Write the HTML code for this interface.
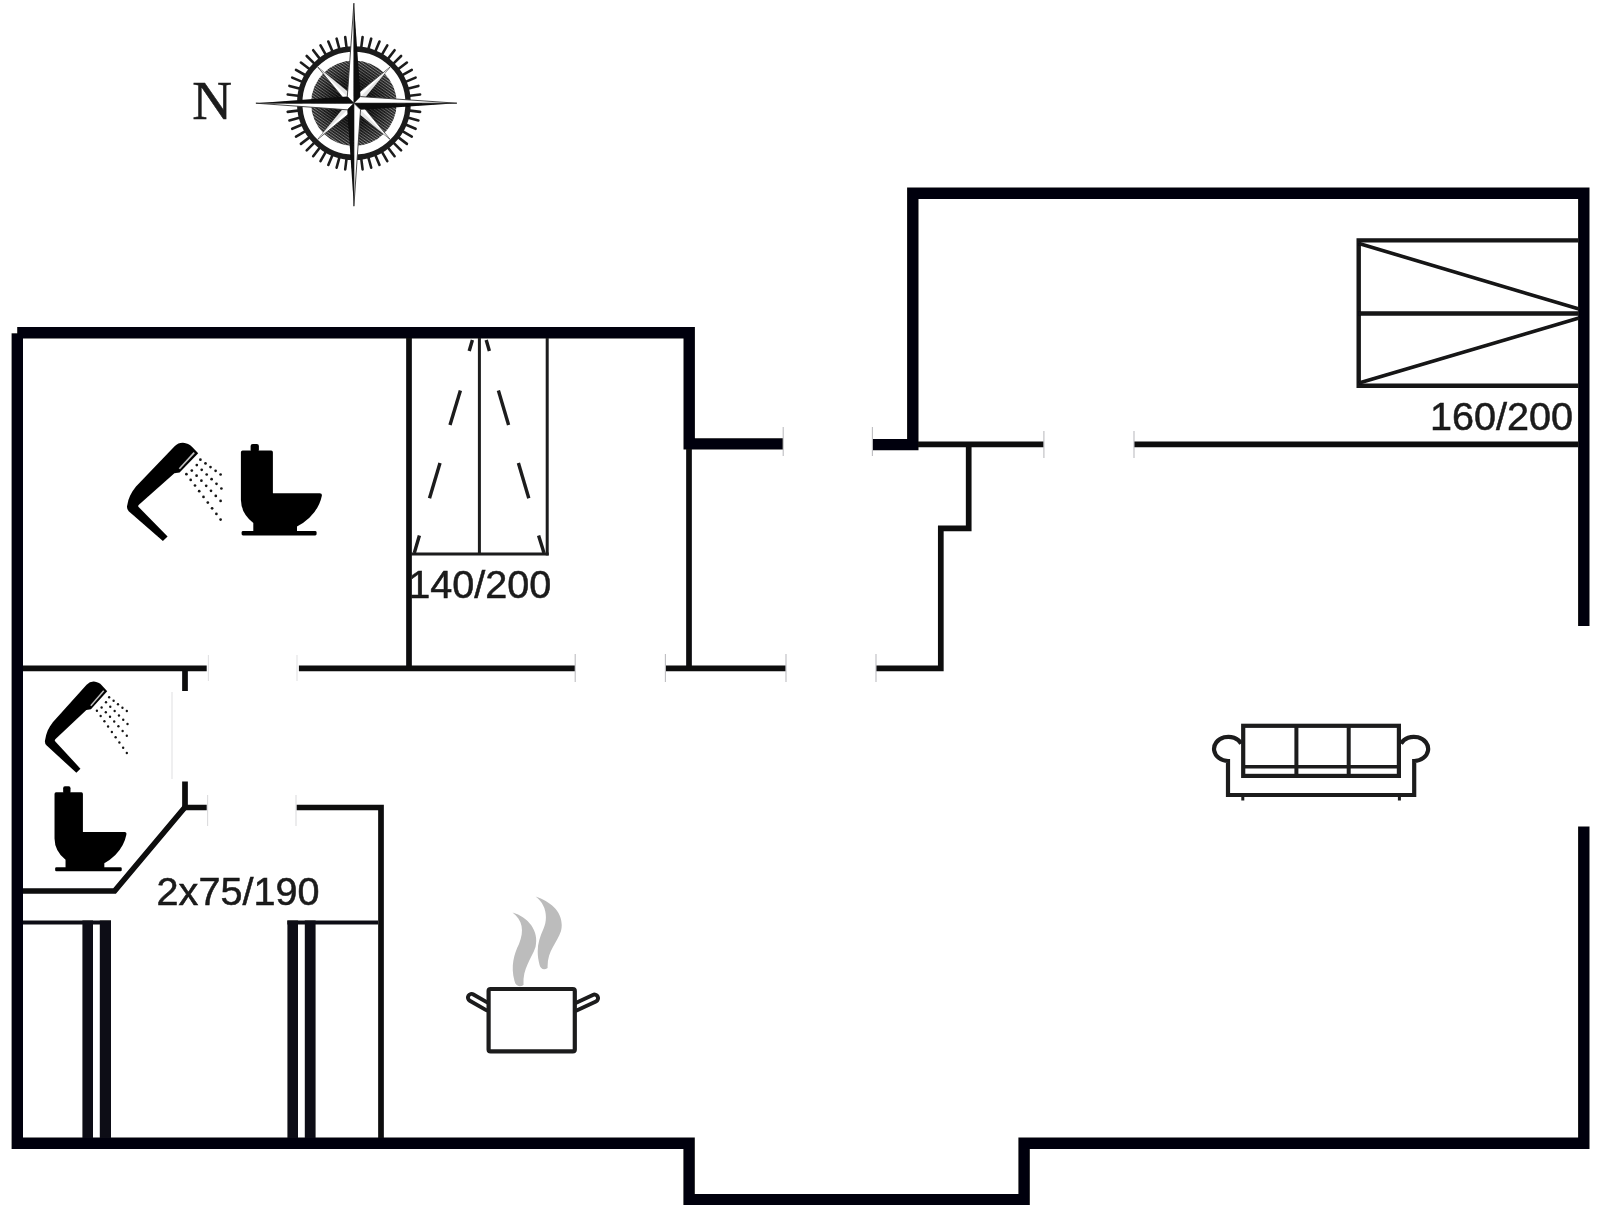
<!DOCTYPE html>
<html lang="en">
<head>
<meta charset="utf-8">
<title>Floor plan</title>
<style>
  html, body { margin: 0; padding: 0; background: #ffffff; }
  body { width: 1606px; height: 1205px; overflow: hidden; }
  svg { display: block; }
  .lbl { font-family: "Liberation Sans", sans-serif; fill: #1a1a1a; stroke: #1a1a1a; stroke-width: 0.55px; }
  .ser { font-family: "Liberation Serif", serif; fill: #1c1c1c; stroke: #1c1c1c; stroke-width: 0.5px; }
</style>
</head>
<body>
<svg width="1606" height="1205" viewBox="0 0 1606 1205">
  <defs>
    <filter id="page" filterUnits="userSpaceOnUse" x="0" y="0" width="1606" height="1205"><feGaussianBlur stdDeviation="0.55"/></filter>
  </defs>
  <rect x="0" y="0" width="1606" height="1205" fill="#ffffff"/>
  <g id="page-root" filter="url(#page)">
  <rect x="0" y="0" width="1606" height="1205" fill="#ffffff"/>

  <!-- ===== thick outer walls ===== -->
  <g id="outer" fill="none" stroke="#060608" stroke-width="11.4" stroke-linejoin="miter" stroke-linecap="butt">
    <path d="M783 443.9 H689.2 V332.7 H17.3 V1143.3 H689.1 V1199.6 H1024.1 V1143.3 H1583.8 V826.4"/>
    <path d="M1583.8 626 V193.2 H912.8 V444.6 H872.5"/>
    <!-- chipped outer corner, top-left -->
    <rect x="10" y="325" width="7.2" height="8.3" fill="#ffffff" stroke="none"/>
  </g>

  <!-- ===== thin inner walls ===== -->
  <g id="inner" fill="none" stroke="#0a0a0c" stroke-width="5.7" stroke-linejoin="miter" stroke-linecap="butt">
    <!-- horizontal y=668 -->
    <path d="M23 668.3 H206.7"/>
    <path d="M298.9 668.3 H575"/>
    <path d="M665.5 668.3 H785.8"/>
    <path d="M876 668.4 H940.8 V528.3 H968.7 V445"/>
    <path d="M409 338 V668"/>
    <path d="M689 449 V668"/>
    <path d="M918 444.3 H1043.8"/>
    <path d="M1134 444.3 H1578"/>
    <!-- small bath -->
    <path d="M185 671 V691"/>
    <path d="M185 781.5 V807.5 H206.7"/>
    <path d="M296.4 807.5 H381 V1138"/>
    <path d="M186 806 L114.6 891 H23"/>
  </g>

  <!-- placeholder: furniture, icons, labels come next -->
  <g id="furniture">
    <!-- bed 140/200 -->
    <g fill="none" stroke="#1a1a1c" stroke-linecap="butt">
      <path d="M479.4 338 V554" stroke-width="3"/>
      <path d="M547.2 338 V555.4" stroke-width="3"/>
      <path d="M411 554 H548.7" stroke-width="3"/>
      <!-- dashed arrow lines -->
      <g stroke-width="3.4">
        <path d="M472.4 340 L469.2 351"/>
        <path d="M460.4 390.4 L450 425"/>
        <path d="M440 463 L429.5 498.3"/>
        <path d="M419.4 535.5 L414.3 553"/>
        <path d="M486.2 340 L489.4 351"/>
        <path d="M498.4 390.4 L508.6 425"/>
        <path d="M518.4 463 L528.8 498.3"/>
        <path d="M538.6 535.5 L544 553"/>
      </g>
    </g>
    <!-- bed 160/200 -->
    <g fill="none" stroke="#121214" stroke-width="4.4" stroke-linejoin="miter">
      <path d="M1578 240.4 H1358.7 V385.8 H1578"/>
      <path d="M1358.7 313.5 H1578"/>
      <path d="M1359 243.5 L1579 309" stroke-width="3.6"/>
      <path d="M1359 383 L1579 318" stroke-width="3.6"/>
    </g>
    <!-- twin beds 2x75/190 -->
    <g fill="none" stroke="#111114">
      <path d="M23 922.5 H111" stroke-width="4.2"/>
      <path d="M287.3 922.5 H378" stroke-width="4.2"/>
      <path d="M87.7 920.5 V1138" stroke-width="10.6"/>
      <path d="M105.4 920.5 V1138" stroke-width="11.2"/>
      <path d="M292.7 920.5 V1138" stroke-width="10.6"/>
      <path d="M310.2 920.5 V1138" stroke-width="10.8"/>
    </g>
    <!-- sofa -->
    <g fill="none" stroke="#1c1c1e" stroke-width="4.2" stroke-linejoin="miter">
      <path d="M1241.2 743.6 A14.3 12.1 0 1 0 1228 761 V795 H1414.2 V761 A14.3 12.1 0 1 0 1401 743.6"/>
      <rect x="1243.2" y="725.8" width="155.7" height="50.1"/>
      <path d="M1296.4 726 V776 M1348.7 726 V776" stroke-width="4"/>
      <path d="M1243 766.8 H1399" stroke-width="3.4"/>
      <path d="M1242.8 797 V800.6 M1399.4 797 V800.6" stroke-width="3"/>
    </g>
    <!-- cooking pot -->
    <g fill="none" stroke-linecap="round" stroke-linejoin="round">
      <path d="M488 1007 L471.6 997.6" stroke="#1c1c1e" stroke-width="11.2"/>
      <path d="M488 1007 L471.6 997.6" stroke="#ffffff" stroke-width="3.4"/>
      <path d="M575.6 1007 L594.4 998.2" stroke="#1c1c1e" stroke-width="11.2"/>
      <path d="M575.6 1007 L594.4 998.2" stroke="#ffffff" stroke-width="3.4"/>
      <rect x="488.6" y="989" width="86.2" height="62.4" rx="2" fill="#ffffff" stroke="#1c1c1e" stroke-width="4.2"/>
    </g>
    <!-- steam -->
    <g fill="#bcbcbc" stroke="none" filter="url(#soft2)">
      <path d="M512.5 912.6 C528 917 539.5 931 535.5 947 C531.5 959 522.5 968 523.5 985 C519.5 987.5 515.5 986 514.5 981 C510.5 966 514 954 519 944 C524.5 931 522.5 920 512.5 912.6 Z"/>
      <path d="M535.6 896.6 C552 902 565 914 561 931 C557 943 547 951 547.6 968 C544 970.5 540.5 969 539.6 965 C535.6 950 538.4 940 543.4 929 C548.6 917 545.6 904 535.6 896.6 Z"/>
    </g>
  </g>
  <g id="icons">
    <g><g>
      <path d="M174.6 446.2 Q178.4 442.6 183 442.8 Q188.6 443.2 192.2 446.9 L198.2 453.3 L179.6 472.6 L174.4 473.2 L139.2 504.4 Q137.4 505.7 138.9 507.2 L167.6 536.4 L162.9 540.9 L128.7 511.2 Q126.2 508.6 127.3 505 C128.4 498.4 131 492.6 136 486.6 Z" fill="#060606"/>
      <path d="M194.2 452.6 L179.4 468.8" stroke="#c4c4c4" stroke-width="1.6" fill="none"/>
      <g fill="#161616"><circle cx="186.4" cy="474.2" r="1.35"/><circle cx="190.7" cy="479.9" r="1.35"/><circle cx="195.0" cy="485.5" r="1.35"/><circle cx="199.2" cy="491.2" r="1.35"/><circle cx="203.5" cy="496.9" r="1.35"/><circle cx="207.8" cy="502.6" r="1.35"/><circle cx="212.1" cy="508.3" r="1.35"/><circle cx="216.4" cy="513.9" r="1.35"/><circle cx="220.6" cy="519.6" r="1.35"/><circle cx="191.8" cy="470.6" r="1.35"/><circle cx="196.6" cy="475.7" r="1.35"/><circle cx="201.4" cy="480.7" r="1.35"/><circle cx="206.2" cy="485.8" r="1.35"/><circle cx="211.0" cy="490.8" r="1.35"/><circle cx="215.8" cy="495.9" r="1.35"/><circle cx="220.6" cy="500.9" r="1.35"/><circle cx="196.8" cy="465.1" r="1.35"/><circle cx="201.7" cy="469.8" r="1.35"/><circle cx="206.7" cy="474.5" r="1.35"/><circle cx="211.6" cy="479.2" r="1.35"/><circle cx="216.5" cy="483.8" r="1.35"/><circle cx="221.4" cy="488.5" r="1.35"/><circle cx="200.4" cy="459.7" r="1.35"/><circle cx="205.5" cy="463.4" r="1.35"/><circle cx="210.5" cy="467.1" r="1.35"/><circle cx="215.6" cy="470.8" r="1.35"/><circle cx="220.6" cy="474.5" r="1.35"/></g>
    </g><g fill="#050505">
      <rect x="250.6" y="444.1" width="8.3" height="8" rx="2"/>
      <path d="M242.6 450.4 H271.2 Q272.9 450.4 272.9 452.2 V493.2 H319.8 Q322.4 493.2 321.8 496 Q319.4 508 309.4 517.8 Q303.4 523.4 297 526.6 V532 H253.3 V523 Q241 513.4 240.9 500 V452.2 Q240.9 450.4 242.6 450.4 Z"/>
      <rect x="241.6" y="531" width="75" height="4.4" rx="1.4"/>
    </g></g>
    <g transform="matrix(0.875 0 0 0.93 -66.2 269.8)"><g>
      <path d="M174.6 446.2 Q178.4 442.6 183 442.8 Q188.6 443.2 192.2 446.9 L198.2 453.3 L179.6 472.6 L174.4 473.2 L139.2 504.4 Q137.4 505.7 138.9 507.2 L167.6 536.4 L162.9 540.9 L128.7 511.2 Q126.2 508.6 127.3 505 C128.4 498.4 131 492.6 136 486.6 Z" fill="#060606"/>
      <path d="M194.2 452.6 L179.4 468.8" stroke="#c4c4c4" stroke-width="1.6" fill="none"/>
      <g fill="#161616"><circle cx="186.4" cy="474.2" r="1.35"/><circle cx="190.7" cy="479.9" r="1.35"/><circle cx="195.0" cy="485.5" r="1.35"/><circle cx="199.2" cy="491.2" r="1.35"/><circle cx="203.5" cy="496.9" r="1.35"/><circle cx="207.8" cy="502.6" r="1.35"/><circle cx="212.1" cy="508.3" r="1.35"/><circle cx="216.4" cy="513.9" r="1.35"/><circle cx="220.6" cy="519.6" r="1.35"/><circle cx="191.8" cy="470.6" r="1.35"/><circle cx="196.6" cy="475.7" r="1.35"/><circle cx="201.4" cy="480.7" r="1.35"/><circle cx="206.2" cy="485.8" r="1.35"/><circle cx="211.0" cy="490.8" r="1.35"/><circle cx="215.8" cy="495.9" r="1.35"/><circle cx="220.6" cy="500.9" r="1.35"/><circle cx="196.8" cy="465.1" r="1.35"/><circle cx="201.7" cy="469.8" r="1.35"/><circle cx="206.7" cy="474.5" r="1.35"/><circle cx="211.6" cy="479.2" r="1.35"/><circle cx="216.5" cy="483.8" r="1.35"/><circle cx="221.4" cy="488.5" r="1.35"/><circle cx="200.4" cy="459.7" r="1.35"/><circle cx="205.5" cy="463.4" r="1.35"/><circle cx="210.5" cy="467.1" r="1.35"/><circle cx="215.6" cy="470.8" r="1.35"/><circle cx="220.6" cy="474.5" r="1.35"/></g>
    </g></g>
    <g transform="matrix(0.888 0 0 0.931 -159.4 372.9)"><g fill="#050505">
      <rect x="250.6" y="444.1" width="8.3" height="8" rx="2"/>
      <path d="M242.6 450.4 H271.2 Q272.9 450.4 272.9 452.2 V493.2 H319.8 Q322.4 493.2 321.8 496 Q319.4 508 309.4 517.8 Q303.4 523.4 297 526.6 V532 H253.3 V523 Q241 513.4 240.9 500 V452.2 Q240.9 450.4 242.6 450.4 Z"/>
      <rect x="241.6" y="531" width="75" height="4.4" rx="1.4"/>
    </g></g>
    <!-- door jamb tick marks -->
    <g stroke="#bdbdc1" stroke-width="1.1" fill="none">
      <path d="M575.2 654 V682 M665.4 654 V682 M786 654 V682 M876 654 V682"/>
      <path d="M208.4 655 V681 M297 655 V681" stroke="#e2e2e4"/>
      <path d="M783.2 427 V456 M872.4 427 V456 M1043.9 431 V458 M1134 431 V458"/>
      <path d="M207.6 795 V826 M296 795 V826" stroke="#dcdcde"/>
    </g>
    <g stroke="#e4e4e6" stroke-width="1.2" fill="none">
      <path d="M172 692 V779"/>
          </g>
  </g>
  <g id="labels">
    <text class="lbl" x="408.3" y="597.6" font-size="39.6">140/200</text>
    <text class="lbl" x="1430" y="430.2" font-size="39.6">160/200</text>
    <text class="lbl" x="156.6" y="905.3" font-size="39.6">2x75/190</text>
    <text class="ser" x="192.2" y="118.8" font-size="55">N</text>
  </g>
  <g id="compass">
    <defs>
      <pattern id="hatch" width="2.4" height="2.4" patternUnits="userSpaceOnUse" patternTransform="rotate(35)">
        <rect width="2.4" height="2.4" fill="#8c8c8c"/>
        <rect width="2.4" height="1.5" fill="#2a2a2a"/>
      </pattern>
      <radialGradient id="discShade" cx="50%" cy="50%" r="50%">
        <stop offset="0" stop-color="#000" stop-opacity="0.9"/>
        <stop offset="0.5" stop-color="#000" stop-opacity="0.6"/>
        <stop offset="1" stop-color="#000" stop-opacity="0"/>
      </radialGradient>
      <filter id="soft" x="-10%" y="-10%" width="120%" height="120%"><feGaussianBlur stdDeviation="0.7"/></filter>
      <filter id="soft2" x="-20%" y="-20%" width="140%" height="140%"><feGaussianBlur stdDeviation="0.6"/></filter>
    </defs>
    <g filter="url(#soft)">
      <path d="M410.4 103.2 L420.7 103.2 M409.9 110.6 L420.1 111.9 M408.5 117.8 L418.4 120.5 M406.1 124.8 L415.6 128.8 M402.8 131.4 L411.8 136.6 M398.7 137.6 L406.9 143.9 M393.9 143.2 L401.1 150.4 M388.3 148.0 L394.6 156.2 M382.1 152.1 L387.3 161.1 M375.5 155.4 L379.5 164.9 M368.5 157.8 L371.2 167.7 M361.3 159.2 L362.6 169.4 M353.9 159.7 L353.9 170.0 M346.5 159.2 L345.2 169.4 M339.3 157.8 L336.6 167.7 M332.3 155.4 L328.3 164.9 M325.6 152.1 L320.5 161.1 M319.5 148.0 L313.2 156.2 M313.9 143.2 L306.7 150.4 M309.1 137.6 L300.9 143.9 M305.0 131.4 L296.0 136.6 M301.7 124.8 L292.2 128.8 M299.3 117.8 L289.4 120.5 M297.9 110.6 L287.7 111.9 M297.4 103.2 L287.1 103.2 M297.9 95.8 L287.7 94.5 M299.3 88.6 L289.4 85.9 M301.7 81.6 L292.2 77.6 M305.0 75.0 L296.0 69.8 M309.1 68.8 L300.9 62.5 M313.9 63.2 L306.7 56.0 M319.5 58.4 L313.2 50.2 M325.6 54.3 L320.5 45.3 M332.3 51.0 L328.3 41.5 M339.3 48.6 L336.6 38.7 M346.5 47.2 L345.2 37.0 M353.9 46.7 L353.9 36.4 M361.3 47.2 L362.6 37.0 M368.5 48.6 L371.2 38.7 M375.5 51.0 L379.5 41.5 M382.1 54.3 L387.3 45.3 M388.3 58.4 L394.6 50.2 M393.9 63.2 L401.1 56.0 M398.7 68.8 L406.9 62.5 M402.8 74.9 L411.8 69.8 M406.1 81.6 L415.6 77.6 M408.5 88.6 L418.4 85.9 M409.9 95.8 L420.1 94.5" stroke="#1e1e1e" stroke-width="2.6" stroke-linecap="round" fill="none"/>
      <circle cx="353.9" cy="103.2" r="54.2" fill="none" stroke="#1c1c1c" stroke-width="5.4"/>
      <circle cx="353.9" cy="103.2" r="42.8" fill="url(#hatch)"/>
      <circle cx="353.9" cy="103.2" r="42.8" fill="url(#discShade)"/>
      <path d="M353.9 103.2 L353.9 96.8 L390.0 67.1 L360.3 103.2 Z" fill="#ffffff" stroke="#3a3a3a" stroke-width="0.8"/><path d="M353.9 103.2 L360.3 103.2 L390.0 67.1 Z" fill="#e4e4e4"/><path d="M353.9 103.2 L360.3 103.2 L390.0 139.3 L353.9 109.6 Z" fill="#ffffff" stroke="#3a3a3a" stroke-width="0.8"/><path d="M353.9 103.2 L353.9 109.6 L390.0 139.3 Z" fill="#e4e4e4"/><path d="M353.9 103.2 L353.9 109.6 L317.8 139.3 L347.5 103.2 Z" fill="#ffffff" stroke="#3a3a3a" stroke-width="0.8"/><path d="M353.9 103.2 L347.5 103.2 L317.8 139.3 Z" fill="#e4e4e4"/><path d="M353.9 103.2 L347.5 103.2 L317.8 67.1 L353.9 96.8 Z" fill="#ffffff" stroke="#3a3a3a" stroke-width="0.8"/><path d="M353.9 103.2 L353.9 96.8 L317.8 67.1 Z" fill="#e4e4e4"/>
      <path d="M353.9 103.2 L347.3 96.6 L353.9 3.2 Z" fill="#ffffff" stroke="#333" stroke-width="0.9"/><path d="M353.9 103.2 L360.5 96.6 L353.9 3.2 Z" fill="#080808"/><path d="M353.9 103.2 L360.5 96.6 L456.9 103.2 Z" fill="#ffffff" stroke="#333" stroke-width="0.9"/><path d="M353.9 103.2 L360.5 109.8 L456.9 103.2 Z" fill="#080808"/><path d="M353.9 103.2 L360.5 109.8 L353.9 206.2 Z" fill="#ffffff" stroke="#333" stroke-width="0.9"/><path d="M353.9 103.2 L347.3 109.8 L353.9 206.2 Z" fill="#080808"/><path d="M353.9 103.2 L347.3 109.8 L255.9 103.2 Z" fill="#ffffff" stroke="#333" stroke-width="0.9"/><path d="M353.9 103.2 L347.3 96.6 L255.9 103.2 Z" fill="#080808"/>
    </g>
  </g>
  </g>
</svg>
</body>
</html>
